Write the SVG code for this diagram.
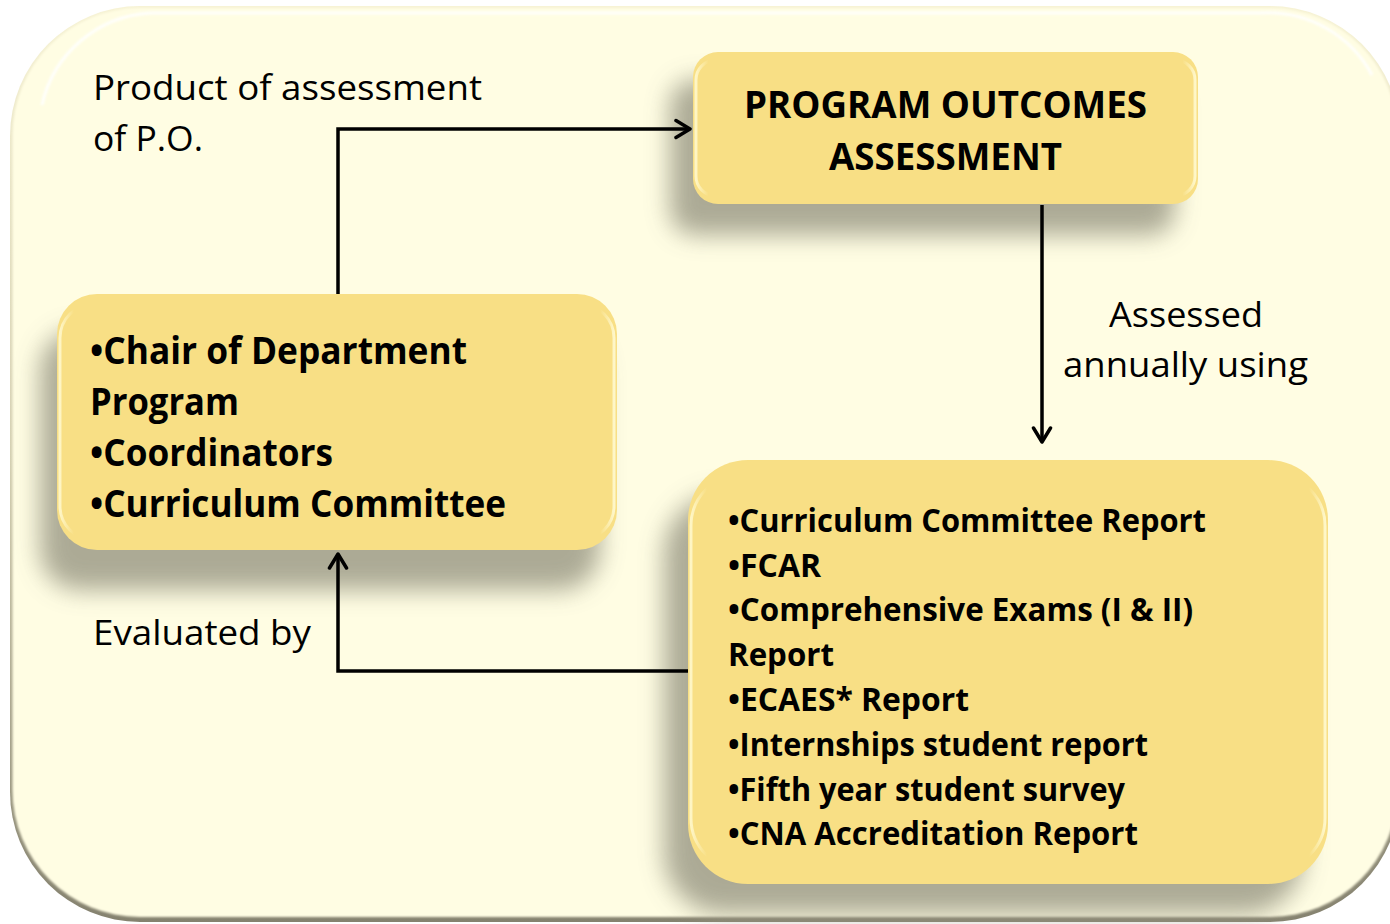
<svg xmlns="http://www.w3.org/2000/svg" width="1390" height="924" viewBox="0 0 1390 924">
  <defs>
    <style>
      .lbl { font-family: "Open Sans", "Liberation Sans", sans-serif; font-size: 35px; fill: #000; }
      .bold { font-family: "Open Sans", "Liberation Sans", sans-serif; font-weight: bold; fill: #000; }
      .box { fill: #F8DF85; }
      .gloss { fill: none; stroke: url(#glossGrad); stroke-width: 3; }
      .shadow { fill: #9E9C88; opacity: 0.85; filter: url(#blur); }
      .conn { fill: none; stroke: #000; stroke-width: 3.5; }
    </style>
    <filter id="blur" x="-20%" y="-30%" width="140%" height="160%">
      <feGaussianBlur stdDeviation="12"/>
    </filter>
    <filter id="soft" x="-5%" y="-5%" width="110%" height="110%">
      <feGaussianBlur stdDeviation="1.2"/>
    </filter>
    <linearGradient id="edgeGrad" x1="0" y1="0" x2="0" y2="1">
      <stop offset="0" stop-color="#F6F2D4"/>
      <stop offset="0.5" stop-color="#D2CEB0"/>
      <stop offset="1" stop-color="#85826F"/>
    </linearGradient>
    <linearGradient id="glossGrad" x1="0" y1="0" x2="1" y2="0">
      <stop offset="0" stop-color="#FFF8CC" stop-opacity="0.9"/>
      <stop offset="0.025" stop-color="#FFF8CC" stop-opacity="0"/>
      <stop offset="0.975" stop-color="#FFF8CC" stop-opacity="0"/>
      <stop offset="1" stop-color="#FFF8CC" stop-opacity="0.95"/>
    </linearGradient>
    <marker id="arrow" markerUnits="userSpaceOnUse" markerWidth="30" markerHeight="30" refX="16" refY="10" orient="auto" viewBox="0 0 30 20">
      <path d="M2,1.5 L16,10 L2,18.5" fill="none" stroke="#000" stroke-width="3.5" stroke-linecap="round" stroke-linejoin="round"/>
    </marker>
  </defs>

  <rect x="0" y="0" width="1390" height="924" fill="#FFFFFF"/>

  <g id="frame">
    <rect x="10" y="6" width="1390" height="916" rx="130" ry="130" fill="url(#edgeGrad)"/>
    <rect x="12.5" y="8" width="1385" height="909" rx="127" ry="127" fill="#FFFDE3" filter="url(#soft)"/>
    <path d="M42,105 A118,118 0 0 1 150,13 H1262 A118,118 0 0 1 1372,75" fill="none" stroke="#FFFFFF" stroke-width="3" opacity="0.9" filter="url(#soft)"/>
  </g>

  <g id="shadows">
    <rect class="shadow" x="670" y="80" width="505" height="155" rx="25"/>
    <rect class="shadow" x="40" y="330" width="560" height="260" rx="40"/>
    <rect class="shadow" x="664" y="494" width="640" height="420" rx="60"/>
  </g>

  <g id="connectors">
    <path class="conn" d="M338,294 V129 H690" marker-end="url(#arrow)"/>
    <path class="conn" d="M1042,205 V442" marker-end="url(#arrow)"/>
    <path class="conn" d="M688,671 H338 V554" marker-end="url(#arrow)"/>
  </g>

  <g id="label-product">
    <text class="lbl" x="93" y="100" textLength="389" lengthAdjust="spacingAndGlyphs">Product of assessment</text>
    <text class="lbl" x="93" y="151" textLength="110" lengthAdjust="spacingAndGlyphs">of P.O.</text>
  </g>
  <g id="label-assessed">
    <text class="lbl" x="1109" y="327" textLength="154" lengthAdjust="spacingAndGlyphs">Assessed</text>
    <text class="lbl" x="1063" y="377" textLength="245" lengthAdjust="spacingAndGlyphs">annually using</text>
  </g>
  <g id="label-evaluated">
    <text class="lbl" x="93" y="645" textLength="218" lengthAdjust="spacingAndGlyphs">Evaluated by</text>
  </g>

  <g id="node-poa">
    <rect class="box" x="693" y="52" width="505" height="152" rx="25"/>
    <rect class="gloss" x="696" y="60" width="499" height="136" rx="20"/>
    <text class="bold" font-size="37" x="744" y="118" textLength="403" lengthAdjust="spacingAndGlyphs">PROGRAM OUTCOMES</text>
    <text class="bold" font-size="37" x="829" y="170" textLength="233" lengthAdjust="spacingAndGlyphs">ASSESSMENT</text>
  </g>

  <g id="node-chair">
    <rect class="box" x="57" y="294" width="560" height="256" rx="40"/>
    <rect class="gloss" x="60" y="304" width="554" height="236" rx="34"/>
    <text class="bold" font-size="37" x="90" y="364" textLength="377" lengthAdjust="spacingAndGlyphs">•Chair of Department</text>
    <text class="bold" font-size="37" x="90" y="415" textLength="149" lengthAdjust="spacingAndGlyphs">Program</text>
    <text class="bold" font-size="37" x="90" y="466" textLength="243" lengthAdjust="spacingAndGlyphs">•Coordinators</text>
    <text class="bold" font-size="37" x="90" y="517" textLength="416" lengthAdjust="spacingAndGlyphs">•Curriculum Committee</text>
  </g>

  <g id="node-reports">
    <rect class="box" x="688" y="460" width="640" height="424" rx="60"/>
    <rect class="gloss" x="691" y="474" width="634" height="396" rx="52"/>
    <text class="bold" font-size="32" x="728" y="532" textLength="478" lengthAdjust="spacingAndGlyphs">•Curriculum Committee Report</text>
    <text class="bold" font-size="32" x="728" y="577" textLength="93" lengthAdjust="spacingAndGlyphs">•FCAR</text>
    <text class="bold" font-size="32" x="728" y="621" textLength="465" lengthAdjust="spacingAndGlyphs">•Comprehensive Exams (I &amp; II)</text>
    <text class="bold" font-size="32" x="728" y="666" textLength="106" lengthAdjust="spacingAndGlyphs">Report</text>
    <text class="bold" font-size="32" x="728" y="711" textLength="241" lengthAdjust="spacingAndGlyphs">•ECAES* Report</text>
    <text class="bold" font-size="32" x="728" y="756" textLength="420" lengthAdjust="spacingAndGlyphs">•Internships student report</text>
    <text class="bold" font-size="32" x="728" y="801" textLength="397" lengthAdjust="spacingAndGlyphs">•Fifth year student survey</text>
    <text class="bold" font-size="32" x="728" y="845" textLength="410" lengthAdjust="spacingAndGlyphs">•CNA Accreditation Report</text>
  </g>
</svg>
